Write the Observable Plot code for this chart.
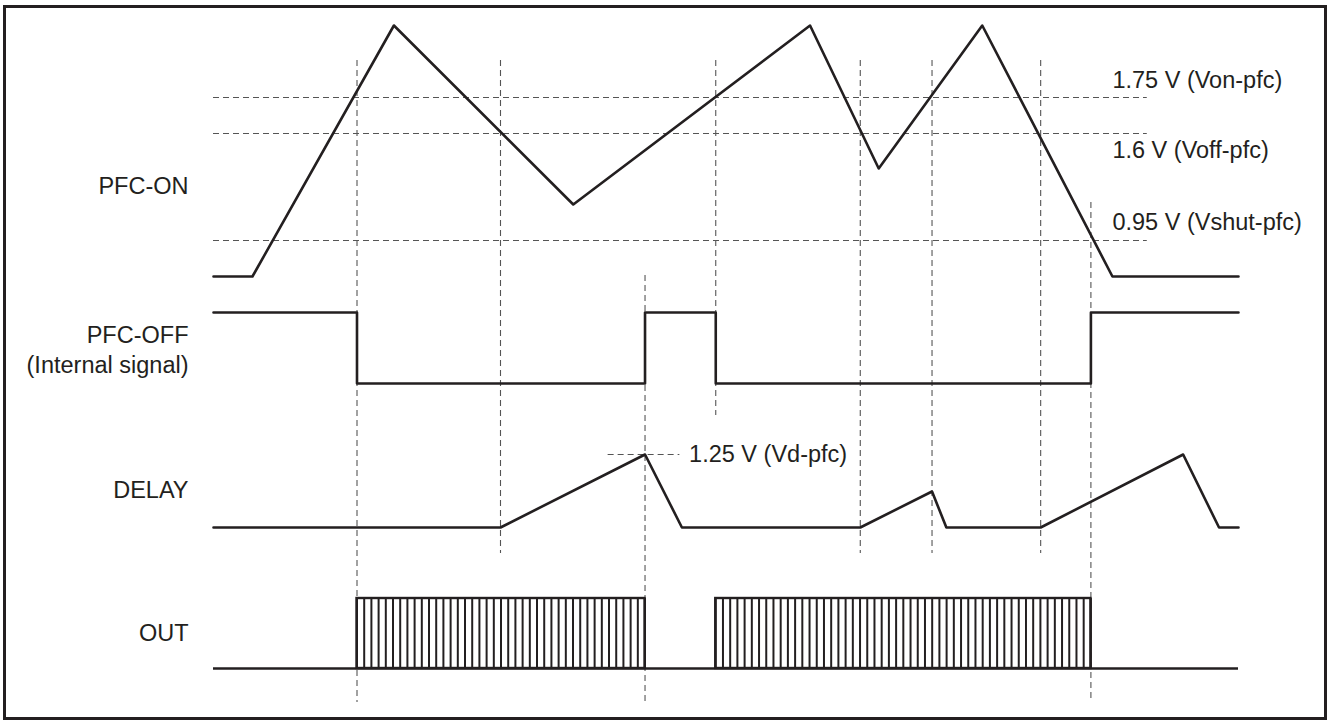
<!DOCTYPE html>
<html>
<head>
<meta charset="utf-8">
<script src="https://cdn.jsdelivr.net/npm/d3@7"></script>
<script src="https://cdn.jsdelivr.net/npm/@observablehq/plot@0.6"></script>
<style>
  html, body { margin: 0; padding: 0; background: #fff; }
  #wrap { position: relative; width: 1331px; height: 720px; overflow: hidden; }
  #frame { position: absolute; left: 3px; top: 5px; width: 1324px; height: 715px;
           border: 3px solid #231f20; box-sizing: border-box; pointer-events: none; }
</style>
</head>
<body>
<div id="wrap"><div id="frame"></div></div>
<script>
// ---------- DATA (time in arbitrary units 0..100, levels in diagram units above each row's baseline) ----------
const signalNames = ["PFC-ON", "PFC-OFF\n(Internal signal)", "DELAY", "OUT"];

// PFC-ON pin voltage (schematic)
const pfcOnT = [0, 3.8, 17.6, 35.1, 58.2, 64.9, 75.0, 87.7, 100];
const pfcOnV = [0, 0, 25.1, 7.2, 25.1, 10.8, 25.1, 0, 0];

// PFC-ON thresholds
const thresholdLabels = ["1.75 V (Von-pfc)", "1.6 V (Voff-pfc)", "0.95 V (Vshut-pfc)"];
const thresholdV = [17.9, 14.3, 3.6];

// PFC-OFF internal signal (1 = high, 0 = low), step changes
const pfcOffT = [0, 14.0, 42.1, 49.0, 85.6, 100];
const pfcOffV = [1, 0, 1, 0, 1, 1];

// DELAY pin voltage
const delayT = [0, 28.0, 42.1, 45.7, 63.1, 70.1, 71.5, 80.7, 94.6, 98.1, 100];
const delayV = [0, 0, 7.3, 0, 0, 3.6, 0, 0, 7.3, 0, 0];
const vdLabel = "1.25 V (Vd-pfc)";
const vdLevel = 7.3;

// OUT switching bursts: start, end, number of switching periods
const burstStart = [14.0, 49.0];
const burstEnd = [42.1, 85.6];
const burstPeriods = [40, 52];

// Event times (vertical dashed guides)
const eventT = [14.0, 28.0, 42.1, 49.0, 63.1, 70.1, 80.7, 85.6];

// ---------- LAYOUT (positions / sizes / styles) ----------
const BASE = { on: 44.4, off: 33.7, delay: 19.3, out: 5.2 };
const OFF_HIGH = 7.1, OUT_HIGH = 7.0;
const LABEL_Y = [BASE.on + 9.2, BASE.off + 3.5, BASE.delay + 3.9, BASE.out + 3.7];
const THRESH_LABEL_OFFSET = [1.7, -1.7, 1.8];
const THRESH_END = 91.1, THRESH_LABEL_T = 87.7;
const VD_DASH = [38.5, 45.5], VD_LABEL_T = 46.4;
const GUIDE_SPAN = [[66, 1.8], [66, 16.7], [44.5, 1.8], [66, 30.5], [66, 16.7], [66, 16.7], [66, 16.7], [51.8, 1.8]];
const INK = "#231f20", GUIDE = "#555";

// ---------- TABLES ----------
const pfcOn = pfcOnT.map((t, i) => ({ t, y: BASE.on + pfcOnV[i] }));
const pfcOff = pfcOffT.map((t, i) => ({ t, y: BASE.off + pfcOffV[i] * OFF_HIGH }));
const delay = delayT.map((t, i) => ({ t, y: BASE.delay + delayV[i] }));
const thresholds = thresholdLabels.map((label, i) => ({
  label, y: BASE.on + thresholdV[i], ly: BASE.on + thresholdV[i] + THRESH_LABEL_OFFSET[i]
}));
const guides = eventT.map((t, i) => ({ t, y1: GUIDE_SPAN[i][0], y2: GUIDE_SPAN[i][1] }));
const bursts = burstStart.map((s, i) => ({ start: s, end: burstEnd[i], n: burstPeriods[i] }));
const pulseEdges = bursts.flatMap(b => d3.range(b.n + 1).map(k => b.start + (b.end - b.start) * k / b.n));
const labels = signalNames.map((name, i) => ({ name, y: LABEL_Y[i] }));

const chart = Plot.plot({
  width: 1331, height: 720,
  marginLeft: 213, marginRight: 93, marginTop: 0, marginBottom: 0,
  x: { domain: [0, 100], axis: null },
  y: { domain: [0, 72], axis: null },
  style: { fontFamily: "'Liberation Sans', Arial, Helvetica, sans-serif", fontSize: "23.5px", color: INK, background: "transparent" },
  marks: [
    // threshold dashed lines
    Plot.ruleY(thresholds, { y: "y", x1: 0, x2: THRESH_END, stroke: GUIDE, strokeWidth: 1.1, strokeDasharray: "6,4" }),
    // event guides
    Plot.ruleX(guides, { x: "t", y1: "y1", y2: "y2", stroke: GUIDE, strokeWidth: 1.1, strokeDasharray: "6,4" }),
    // Vd dashed mark
    Plot.ruleY([BASE.delay + vdLevel], { y: d => d, x1: VD_DASH[0], x2: VD_DASH[1], stroke: GUIDE, strokeWidth: 1.1, strokeDasharray: "6,4" }),
    // waveforms
    Plot.line(pfcOn, { x: "t", y: "y", stroke: INK, strokeWidth: 2.6 }),
    Plot.line(pfcOff, { x: "t", y: "y", stroke: INK, strokeWidth: 2.6, curve: "step-after" }),
    Plot.line(delay, { x: "t", y: "y", stroke: INK, strokeWidth: 2.6 }),
    Plot.ruleY([BASE.out], { y: d => d, x1: 0, x2: 100, stroke: INK, strokeWidth: 2.6 }),
    Plot.ruleX(pulseEdges, { x: d => d, y1: BASE.out, y2: BASE.out + OUT_HIGH, stroke: INK, strokeWidth: 2 }),
    Plot.rect(bursts, { x1: "start", x2: "end", y1: BASE.out, y2: BASE.out + OUT_HIGH, fill: "none", stroke: INK, strokeWidth: 2.4 }),
    // texts
    Plot.text(labels, { x: 0, y: "y", text: "name", dx: -25, textAnchor: "end", lineAnchor: "middle", lineHeight: 1.28, fill: INK }),
    Plot.text(thresholds, { x: THRESH_LABEL_T, y: "ly", text: "label", textAnchor: "start", fill: INK }),
    Plot.text([vdLabel], { x: VD_LABEL_T, y: BASE.delay + vdLevel, text: d => d, textAnchor: "start", fill: INK })
  ]
});
document.getElementById("wrap").prepend(chart);
</script>
</body>
</html>
